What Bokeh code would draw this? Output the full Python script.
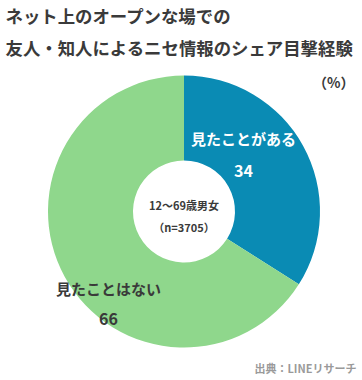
from math import pi
from bokeh.plotting import figure
from bokeh.models import Range1d
from bokeh.core.properties import value
from bokeh.embed import file_html
from bokeh.resources import INLINE

categories = ["見たことがある", "見たことはない"]
values = [34, 66]
colors = ["#0a8bb4", "#8fd78c"]
title_lines = ["ネット上のオープンな場での", "友人・知人によるニセ情報のシェア目撃経験"]
center_lines = ["12～69歳男女", "（n=3705）"]
unit_label = "（%）"
source_label = "出典：LINEリサーチ"

W, H = 362, 380
FONT = "Noto Sans CJK JP"

# data coordinates = pixels (x right, y = 380 - pixel_y)
p = figure(width=W, height=H, output_backend="svg", toolbar_location=None,
           x_range=Range1d(0, W), y_range=Range1d(0, H),
           min_border=0, outline_line_color=None)
p.axis.visible = False
p.grid.visible = False
p.background_fill_color = "white"
p.border_fill_color = "white"

cx, cy = 183.5, 380 - 211
R_out, R_in = 136, 51

total = sum(values)
start = pi / 2
starts, ends = [], []
for v in values:
    end = start - v / total * 2 * pi
    starts.append(end)
    ends.append(start)
    start = end

p.annular_wedge(x=[cx] * len(values), y=[cy] * len(values), inner_radius=R_in,
                outer_radius=R_out, start_angle=starts, end_angle=ends,
                fill_color=colors, line_color=None)

# titles
p.text(x=[5, 5], y=[380 - 15, 380 - 47], text=title_lines, text_font=value(FONT),
       text_font_size="17.4px", text_font_style="bold", text_color="#3a3a3a",
       text_baseline="middle", text_align="left")

p.text(x=[354], y=[380 - 81], text=[unit_label], text_font=value(FONT),
       text_font_size="14px", text_font_style="bold", text_color="#3a3a3a",
       text_baseline="middle", text_align="right")

# slice labels
lab_x = [243, 108]
lab_y = [380 - 138, 380 - 288]
num_y = [380 - 170, 380 - 318]
lab_col = ["white", "#3a3a3a"]
p.text(x=lab_x, y=lab_y, text=categories, text_font=value(FONT),
       text_font_size="15px", text_font_style="bold", text_color=lab_col,
       text_baseline="middle", text_align="center")
p.text(x=lab_x, y=num_y, text=[str(v) for v in values], text_font=value(FONT),
       text_font_size="16px", text_font_style="bold", text_color=lab_col,
       text_baseline="middle", text_align="center")

# center
p.text(x=[cx, cx], y=[380 - 204, 380 - 226], text=center_lines, text_font=value(FONT),
       text_font_size="11px", text_font_style="bold", text_color="#3a3a3a",
       text_baseline="middle", text_align="center")

p.text(x=[356], y=[380 - 367], text=[source_label], text_font=value(FONT),
       text_font_size="11px", text_font_style="bold", text_color="#9a9a9a",
       text_baseline="middle", text_align="right")

open("out.html", "w").write(file_html(p, INLINE))
